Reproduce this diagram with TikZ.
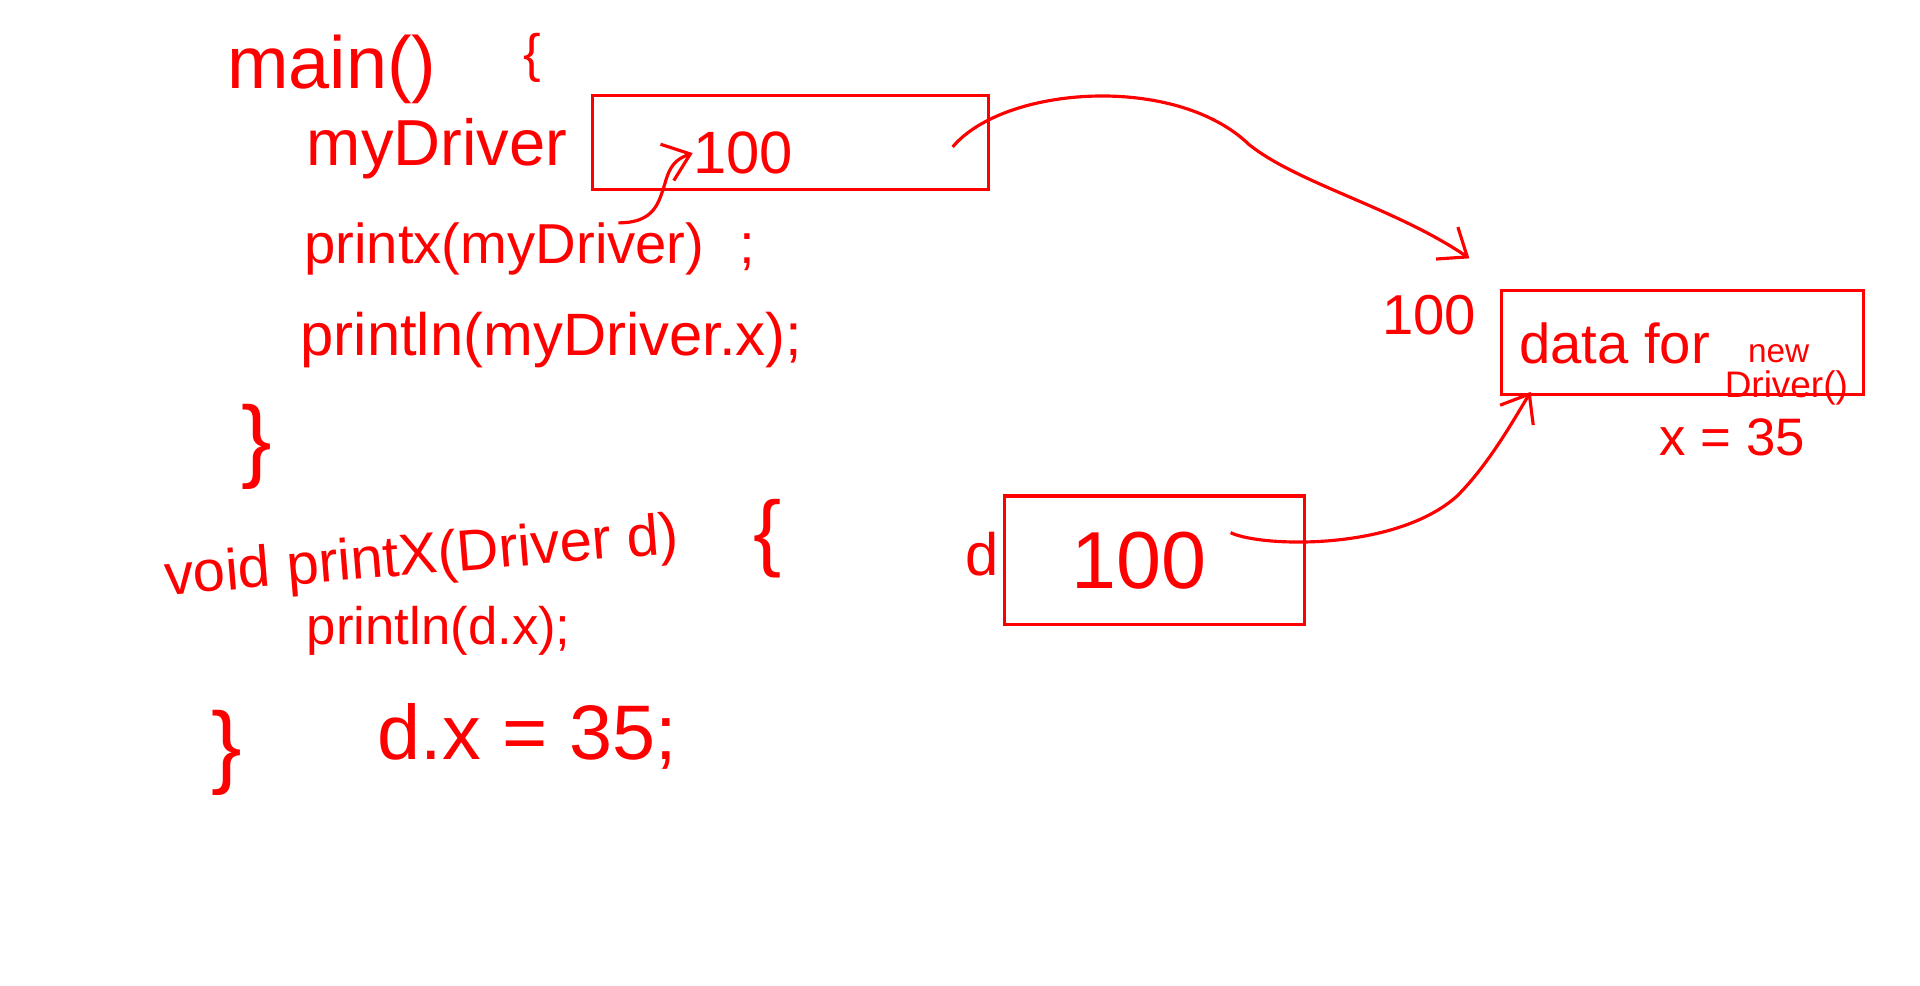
\documentclass[tikz,border=0pt]{standalone}
\usepackage{fontspec}
\setmainfont{Liberation Sans}
\usetikzlibrary{arrows.meta,fit}
\definecolor{ink}{RGB}{255,0,0}
\newcommand{\myfs}[1]{\fontsize{#1}{#1}\selectfont}
\begin{document}
\begin{tikzpicture}[x=0.012245cm,y=-0.012245cm,
  txt/.style={text=ink, inner sep=0pt},
  boxnode/.style={draw=ink, line width=0.9pt, inner sep=0pt},
  link/.style={draw=ink, line width=0.9pt, -{Straight Barb[length=7pt,width=11pt]}}]
\useasboundingbox[fill=white] (0,0) rectangle (1568,805);
% code text
\node[txt, anchor=base west, font=\myfs{21pt}] (tmain) at (185,72) {main()};
\node[txt, font=\myfs{15pt}] (bopen1) at (435,47) {\{};
\node[txt, anchor=base west, font=\myfs{18.5pt}] (tmy) at (250,135) {myDriver};
\node[txt, anchor=base west, font=\myfs{16pt}] (tpx) at (248,215) {printx(myDriver)\hspace{10pt};};
\node[txt, anchor=base west, font=\myfs{17pt}] (tpl) at (245,290) {println(myDriver.x);};
\node[txt, font=\myfs{26pt}] (bclose1) at (210,365) {\}};
\node[txt, anchor=base west, rotate=4.7, font=\myfs{16.5pt}] (tvoid) at (135,486) {void printX(Driver d)};
\node[txt, font=\myfs{24pt}] (bopen2) at (627,440) {\{};
\node[txt, anchor=base west, font=\myfs{15pt}] (tpd) at (250,526) {println(d.x);};
\node[txt, font=\myfs{26pt}] (bclose2) at (185,615) {\}};
\node[txt, anchor=base west, font=\myfs{22pt}] (tdx) at (308,620) {d.x = 35;};
% memory boxes
\node[boxnode, fit={(484,78) (807,155)}] (box1) {};
\node[txt, font=\myfs{17pt}] (v1) at (607,125) {100};
\node[boxnode, fit={(820,405) (1065,510)}] (box2) {};
\node[txt, font=\myfs{23pt}] (v2) at (930,458) {100};
\node[txt, anchor=base west, font=\myfs{17pt}] (tdl) at (788,470) {d};
\node[boxnode, fit={(1226,237) (1522,322)}] (box3) {};
\node[txt, font=\myfs{16pt}] (addr) at (1167,257) {100};
\node[txt, anchor=base west, font=\myfs{16pt}] (tdata) at (1240,297) {data for};
\node[txt, anchor=base west, font=\myfs{9.5pt}] (tnew) at (1427,296) {new};
\node[txt, anchor=base west, font=\myfs{10.5pt}] (tdrv) at (1408,325) {Driver()};
\node[txt, anchor=base west, font=\myfs{15pt}] (tx35) at (1355,372) {x = 35};
% connectors
\coordinate (a1s) at (778,120);
\coordinate (a1e) at (1200,211);
\draw[link] (a1s) .. controls (820,70) and (960,60) .. (1020,118) .. controls (1060,150) and (1140,170) .. (a1e);
\coordinate (a2s) at (505,182);
\draw[link] (a2s) .. controls (535,182) and (538,165) .. (543,150) .. controls (547,135) and (552,130) .. (v1.west);
\coordinate (a3s) at (1005,435);
\coordinate (a3e) at (1250,320);
\draw[link] (a3s) .. controls (1030,447) and (1140,450) .. (1190,405) .. controls (1215,380) and (1235,345) .. (a3e);
\end{tikzpicture}
\end{document}
